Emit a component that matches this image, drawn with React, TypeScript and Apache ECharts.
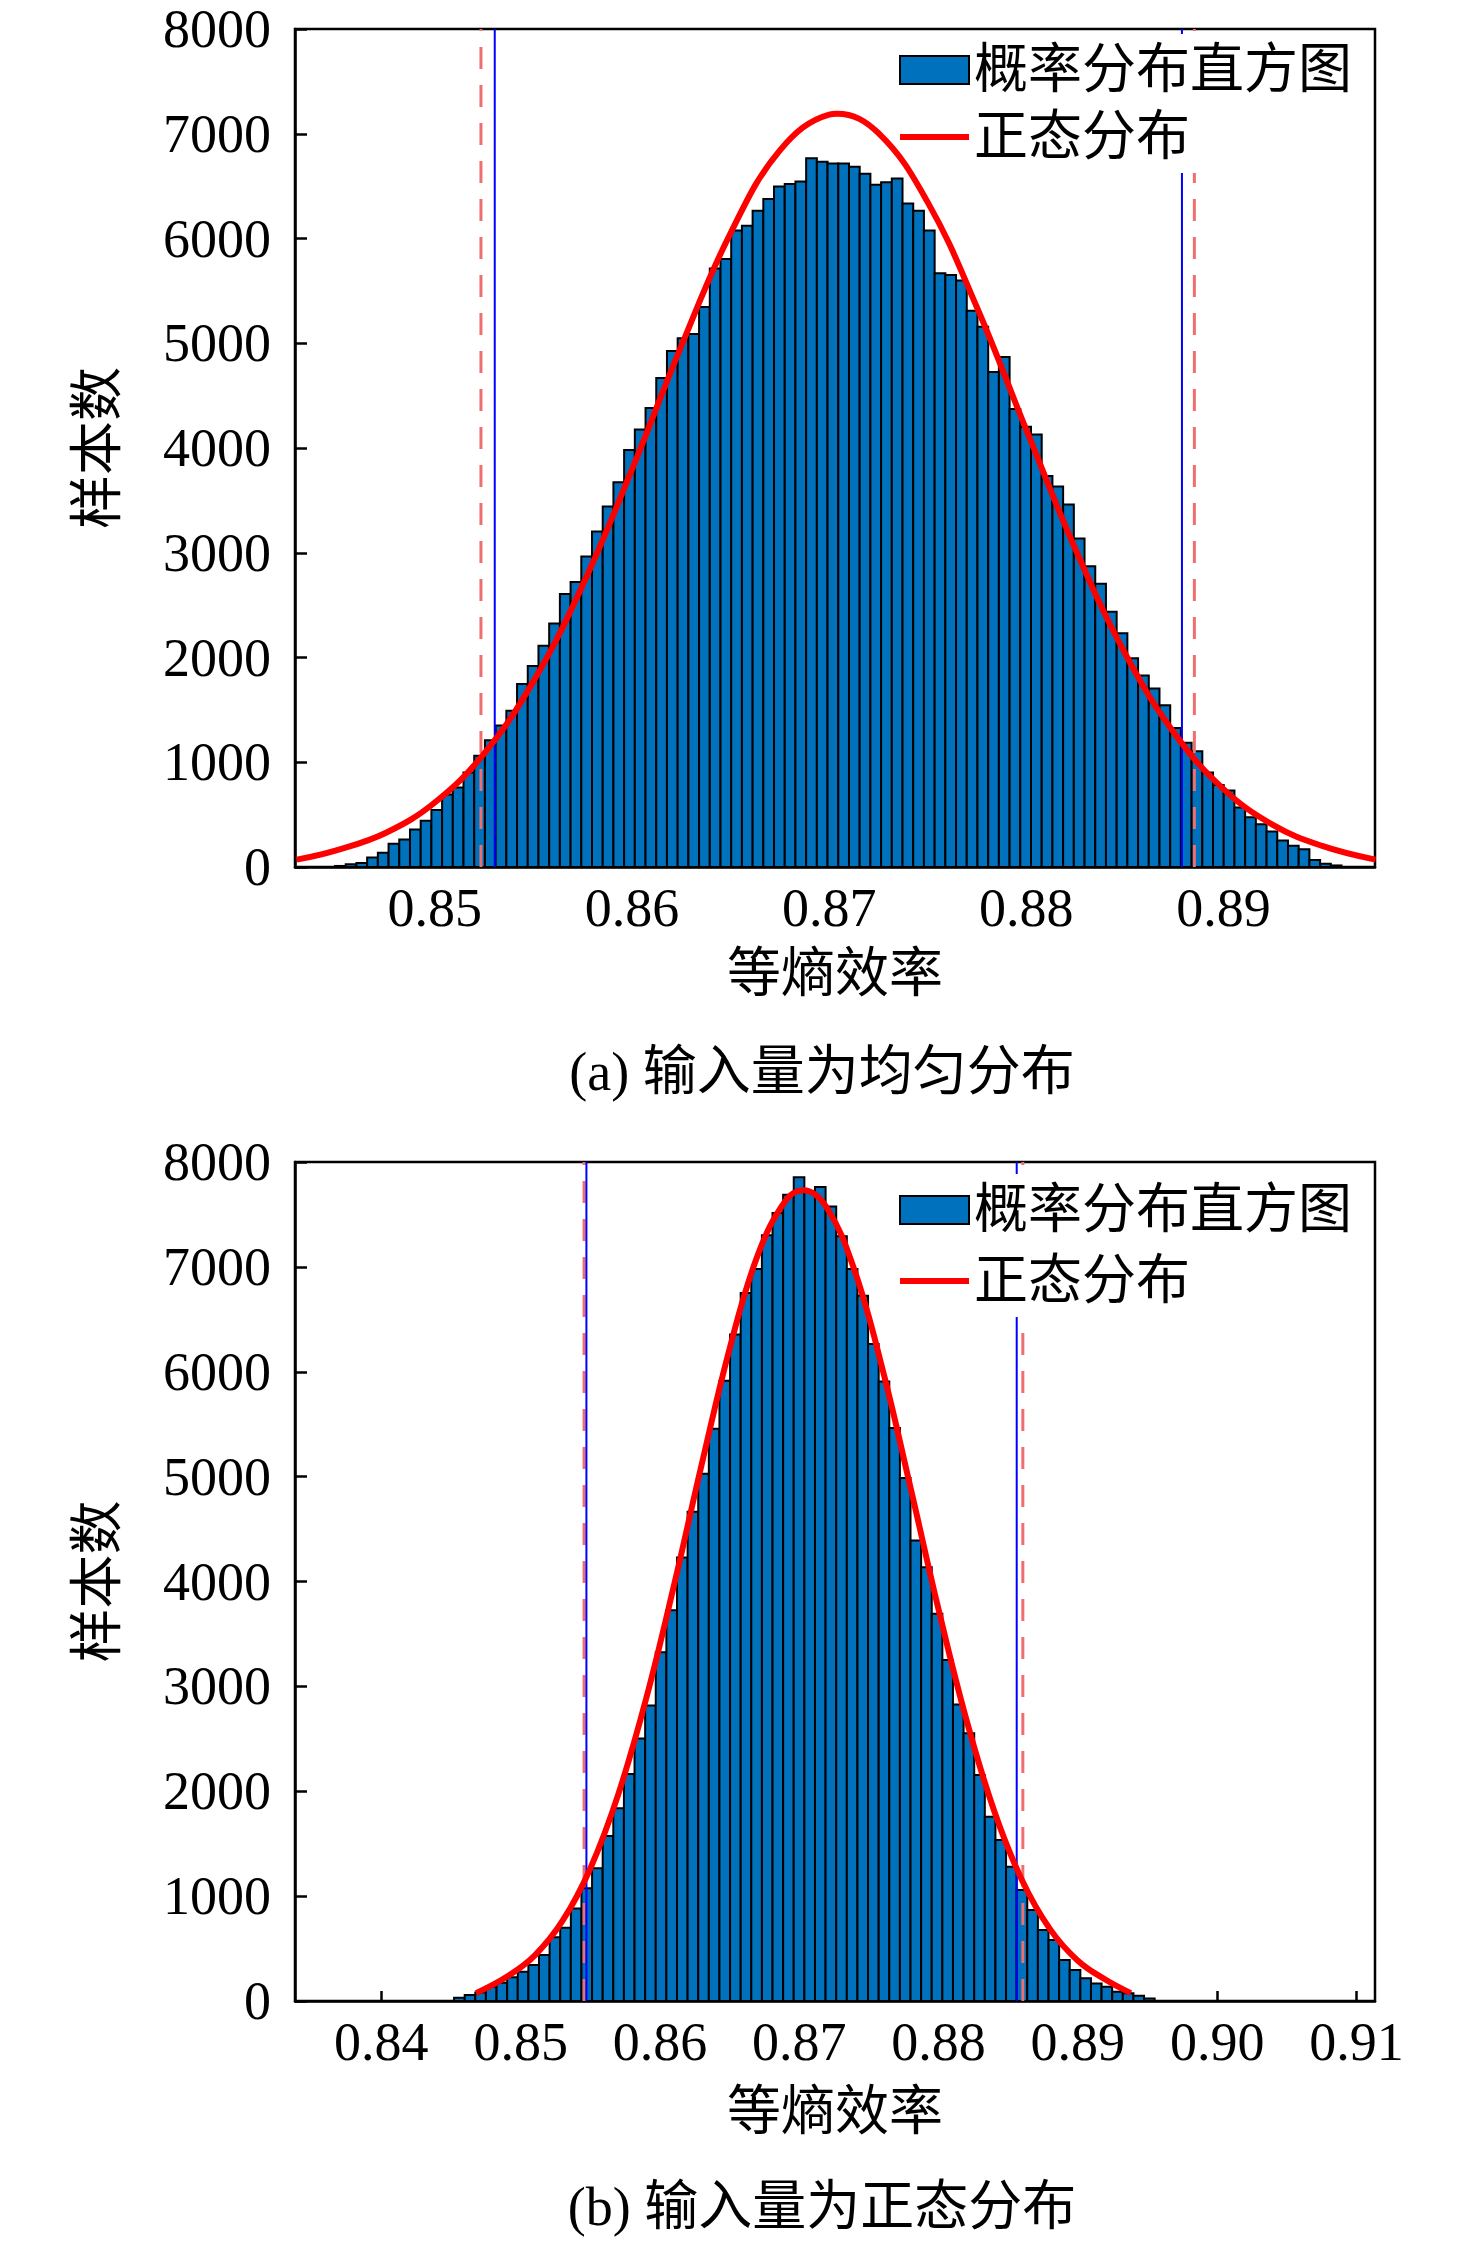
import React, { useEffect, useRef } from 'react';
import * as echarts from 'echarts';

const FONT = '"Liberation Serif", "Noto Sans CJK SC", serif';

// (a) 输入量为均匀分布
const binStartA = 0.84494;
const binWidthA = 0.000543;
const countsA = [
  10, 26, 39, 91, 135, 221, 262, 357, 442, 544, 691, 759, 902, 1063, 1209, 1352, 1492, 1748, 1918, 2113,
  2324, 2607, 2720, 2965, 3204, 3442, 3674, 3981, 4176, 4383, 4669, 4925, 5048, 5089, 5345, 5713, 5805, 6077,
  6122, 6265, 6378, 6497, 6521, 6545, 6767, 6732, 6715, 6715, 6685, 6617, 6514, 6538, 6572, 6333, 6265, 6077,
  5669, 5652, 5600, 5311, 5157, 4725, 4868, 4373, 4202, 4128, 3732, 3633, 3460, 3135, 2870, 2703, 2436, 2232,
  1993, 1829, 1703, 1543, 1328, 1185, 1106, 902, 783, 731, 568, 476, 408, 340, 254, 203, 169, 67, 32, 15,
];
const curveXA = [0.843, 0.845, 0.8475, 0.85, 0.8525, 0.855, 0.8575, 0.86, 0.8625, 0.865, 0.8675, 0.87, 0.8704,
  0.8725, 0.875, 0.8775, 0.88, 0.8825, 0.885, 0.8875, 0.89, 0.8925, 0.895, 0.8977];
const curveYA = [70, 159, 325, 616, 1083, 1772, 2691, 3796, 4973, 6052, 6841, 7183, 7190,
  7005, 6345, 5339, 4172, 3028, 2041, 1278, 743, 402, 201, 70];
const redLinesA = [0.85234, 0.88852];
const blueLinesA = [0.85304, 0.88789];
const ticksA = [0.85, 0.86, 0.87, 0.88, 0.89];

// (b) 输入量为正态分布
const binStartB = 0.84522;
const binWidthB = 0.000762;
const countsB = [
  32, 57, 80, 137, 175, 226, 280, 343, 439, 607, 699, 883, 1074, 1265, 1573, 1837, 2164, 2504,
  2818, 3326, 3727, 4228, 4664, 5028, 5457, 5913, 6356, 6750, 6979, 7302, 7513, 7687, 7854, 7718, 7762,
  7575, 7292, 6979, 6724, 6264, 5907, 5463, 4987, 4391, 4136, 3693, 3251, 2826,
  2552, 2154, 1757, 1535, 1281, 1058, 867, 677, 581, 391, 296, 216, 168, 137, 89, 73, 51, 25,
];
const curveXB = [0.8468, 0.849, 0.851, 0.853, 0.855, 0.857, 0.859, 0.861, 0.863, 0.865, 0.867, 0.869, 0.8703,
  0.872, 0.874, 0.876, 0.878, 0.88, 0.882, 0.884, 0.886, 0.888, 0.89, 0.892, 0.8938];
const curveYB = [75, 231, 433, 763, 1264, 1968, 2879, 3959, 5119, 6220, 7105, 7629, 7730,
  7559, 6953, 6012, 4887, 3733, 2681, 1810, 1149, 685, 384, 202, 75];
const redLinesB = [0.85455, 0.88605];
const blueLinesB = [0.85472, 0.88561];
const ticksB = [0.84, 0.85, 0.86, 0.87, 0.88, 0.89, 0.90, 0.91];

const Y_MAX = 8000;
const HIST_NAME = '概率分布直方图';
const NORM_NAME = '正态分布';
const BAR_COLOR = '#0072BD';
const CURVE_COLOR = '#FF0000';

function renderBar(params: any, api: any) {
  const p0 = api.coord([api.value(0), api.value(2)]);
  const p1 = api.coord([api.value(1), 0]);
  return {
    type: 'rect',
    shape: { x: p0[0], y: p0[1], width: p1[0] - p0[0], height: p1[1] - p0[1] },
    style: { fill: BAR_COLOR, stroke: '#000', lineWidth: 2 },
  };
}

function xAxisCfg(gridIndex: number, min: number, max: number, ticks: number[], nameGap: number) {
  return {
    type: 'value', gridIndex, min, max,
    name: '等熵效率', nameLocation: 'middle', nameGap,
    nameTextStyle: { fontSize: 54, fontFamily: FONT, color: '#000', lineHeight: 54 },
    axisLine: { show: true, onZero: false, lineStyle: { color: '#000', width: 2.5 } },
    axisTick: { show: true, inside: true, length: 10, customValues: ticks, lineStyle: { color: '#000', width: 2.5 } },
    axisLabel: {
      customValues: ticks, formatter: (v: number) => v.toFixed(2),
      fontSize: 54, fontFamily: FONT, color: '#000', margin: 14,
    },
    splitLine: { show: false },
  };
}

function yAxisCfg(gridIndex: number) {
  return {
    type: 'value', gridIndex, min: 0, max: Y_MAX, interval: 1000,
    name: '样本数', nameLocation: 'middle', nameGap: 170,
    nameTextStyle: { fontSize: 54, fontFamily: FONT, color: '#000' },
    axisLine: { show: true, lineStyle: { color: '#000', width: 2.5 } },
    axisTick: { show: true, inside: true, length: 12, lineStyle: { color: '#000', width: 2.5 } },
    axisLabel: { fontSize: 54, fontFamily: FONT, color: '#000', margin: 24, formatter: (v: number) => String(v) },
    splitLine: { show: false },
  };
}

function seriesFor(idx: number, start: number, width: number, counts: number[],
  cx: number[], cy: number[], reds: number[], blues: number[]) {
  const bars = counts.map((c, i) => [start + i * width, start + (i + 1) * width, c]);
  const vline = (q: number, color: string, w: number, type: any) => ({
    type: 'line', xAxisIndex: idx, yAxisIndex: idx, silent: true, z: 3,
    symbol: 'none', data: [[q, 0], [q, Y_MAX]],
    lineStyle: { color, width: w, type },
  });
  return [
    {
      name: HIST_NAME, type: 'custom', xAxisIndex: idx, yAxisIndex: idx, z: 2,
      renderItem: renderBar, encode: { x: [0, 1], y: 2 }, data: bars, clip: true,
      itemStyle: { color: BAR_COLOR, borderColor: '#000', borderWidth: 2 },
    },
    ...reds.map((q) => vline(q, '#EF6E6E', 3, [22, 16])),
    ...blues.map((q) => vline(q, '#0000FF', 2, 'solid')),
    {
      name: NORM_NAME, type: 'line', xAxisIndex: idx, yAxisIndex: idx, z: 6,
      symbol: 'none', showSymbol: false, smooth: 0.4, clip: true,
      data: cx.map((x, i) => [x, cy[i]]),
      lineStyle: { color: CURVE_COLOR, width: 6 },
      itemStyle: { color: CURVE_COLOR },
    },
  ];
}

function legendCfg(top: number, gap: number) {
  return {
    orient: 'vertical', left: 891, top, z: 4,
    backgroundColor: '#fff', padding: 8, itemGap: gap,
    itemWidth: 69, itemHeight: 28,
    selectedMode: false,
    textStyle: { fontSize: 54, fontFamily: FONT, color: '#000', lineHeight: 56 },
    data: [
      { name: HIST_NAME, icon: 'rect', itemStyle: { color: BAR_COLOR, borderColor: '#000', borderWidth: 2 } },
      {
        name: NORM_NAME, icon: 'path://M0,0L69,0L69,6L0,6Z',
        itemStyle: { color: CURVE_COLOR, borderWidth: 0 },
      },
    ],
  };
}

export default function App() {
  const chartRef = useRef<HTMLDivElement>(null);

  useEffect(() => {
    if (!chartRef.current) return;
    const chart = echarts.init(chartRef.current, null, { renderer: 'svg' });
    chart.setOption({
      animation: false,
      backgroundColor: '#fff',
      grid: [
        { left: 295, right: 101, top: 29, bottom: 2241 - 867, show: true, borderColor: '#000', borderWidth: 2.5 },
        { left: 295, right: 101, top: 1162, bottom: 2241 - 2001, show: true, borderColor: '#000', borderWidth: 2.5 },
      ],
      xAxis: [
        xAxisCfg(0, 0.84291, 0.89768, ticksA, 80),
        xAxisCfg(1, 0.8338, 0.91133, ticksB, 84),
      ],
      yAxis: [yAxisCfg(0), yAxisCfg(1)],
      legend: [legendCfg(34, 11), legendCfg(1174, 15)],
      series: [
        ...seriesFor(0, binStartA, binWidthA, countsA, curveXA, curveYA, redLinesA, blueLinesA),
        ...seriesFor(1, binStartB, binWidthB, countsB, curveXB, curveYB, redLinesB, blueLinesB),
      ],
      graphic: [
        {
          type: 'text', x: 822, y: 1072,
          style: { text: '(a) 输入量为均匀分布', fontSize: 54, fontFamily: FONT, fill: '#000', align: 'center', verticalAlign: 'middle' },
        },
        {
          type: 'text', x: 822, y: 2207,
          style: { text: '(b) 输入量为正态分布', fontSize: 54, fontFamily: FONT, fill: '#000', align: 'center', verticalAlign: 'middle' },
        },
      ],
    });
    return () => {
      chart.dispose();
    };
  }, []);

  return (
    <div
      ref={chartRef}
      style={{ position: 'absolute', left: 0, top: 0, width: '1476px', height: '2241px' }}
    ></div>
  );
}
